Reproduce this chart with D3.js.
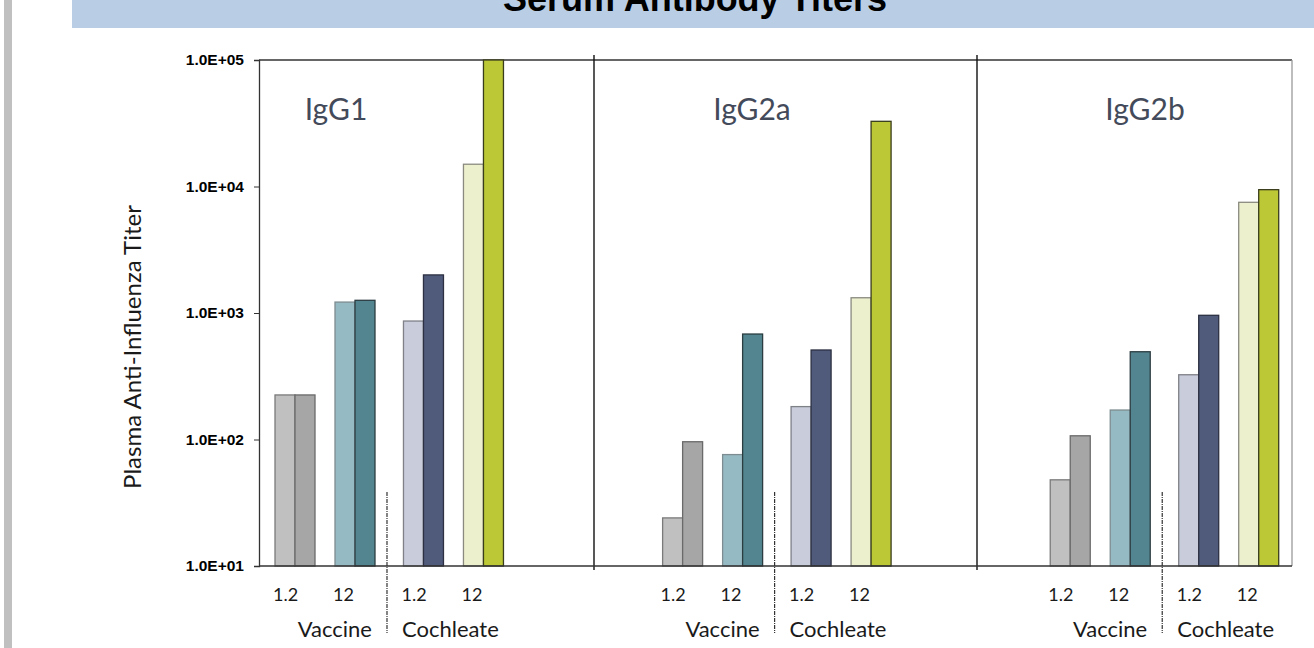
<!DOCTYPE html>
<html>
<head>
<meta charset="utf-8">
<script src="https://cdn.jsdelivr.net/npm/d3@7/dist/d3.min.js"></script>
<style>
  html, body { margin: 0; padding: 0; background: #fff; }
  svg { display: block; }
</style>
</head>
<body>
<svg id="chart" width="1314" height="648"></svg>
<script>
// ---- data ----
const panels = ["IgG1", "IgG2a", "IgG2b"];
const vehicles = ["Vaccine", "Cochleate"];
const doses = ["1.2", "12"];
const bleeds = ["early", "late"];

// titers per panel: [Vaccine 1.2, Vaccine 12, Cochleate 1.2, Cochleate 12], each [early, late]
const igg1Titers  = [[225, 225], [1220, 1260], [864, 2000], [15000, 100000]];
const igg2aTiters = [[24, 96], [76, 682], [182, 510], [1320, 32750]];
const igg2bTiters = [[48, 107], [171, 494], [325, 959], [7500, 9440]];
const panelTiters = [igg1Titers, igg2aTiters, igg2bTiters];

const yTickValues = [10, 100, 1000, 10000, 100000];
const yTickLabels = ["1.0E+01", "1.0E+02", "1.0E+03", "1.0E+04", "1.0E+05"];

// fill / stroke per vehicle-dose group, [early, late]
const groupFills = [
  ["#c0c0c0", "#a6a6a6"],
  ["#96bac3", "#52858f"],
  ["#c8ccdb", "#505a7b"],
  ["#edf0cc", "#bcc836"]
];
const groupStrokes = [
  ["#7a7a7a", "#6a6a6a"],
  ["#7d8c90", "#2c3d42"],
  ["#7f8088", "#2c3042"],
  ["#8a8a80", "#3a3d1c"]
];

// ---- layout ----
const svg = d3.select("#chart");
const plot = { left: 259, right: 1292, top: 60, bottom: 566 };
const dividerX = [594, 977];
const titleX = [336, 752, 1145];

// left grey stripe and title banner
svg.append("rect").attr("x", 4).attr("y", 0).attr("width", 8).attr("height", 648).attr("fill", "#c0c0c0");
svg.append("rect").attr("x", 72).attr("y", 0).attr("width", 1242).attr("height", 28).attr("fill", "#b9cde5");
svg.append("text")
  .attr("x", 695).attr("y", 11)
  .attr("text-anchor", "middle")
  .attr("font-family", "Liberation Sans, Arial, sans-serif")
  .attr("font-weight", "bold")
  .attr("font-size", 36)
  .attr("fill", "#000")
  .text("Serum Antibody Titers");

// ---- scales ----
const y = d3.scaleLog().domain([10, 100000]).range([plot.bottom, plot.top]);

const xPanel = d3.scaleBand().domain(panels).range([265, 1288.7]).paddingInner(0.359).paddingOuter(0);
const xVehicle = d3.scaleBand().domain(vehicles).range([0, xPanel.bandwidth()]).paddingInner(0.066).paddingOuter(0);
const xDose = d3.scaleBand().domain(doses).range([0, xVehicle.bandwidth()]).padding(0);
const xBleed = d3.scaleBand().domain(bleeds).range([0, xDose.bandwidth()]).paddingInner(0).paddingOuter(0.5);

// ---- frame ----
const frame = svg.append("g");
frame.append("line").attr("x1", plot.left).attr("x2", plot.right).attr("y1", plot.top).attr("y2", plot.top)
  .attr("stroke", "#333").attr("stroke-width", 1.3);
frame.append("line").attr("x1", plot.right).attr("x2", plot.right).attr("y1", plot.top).attr("y2", plot.bottom)
  .attr("stroke", "#9a9a9a").attr("stroke-width", 1.3);
dividerX.forEach(x => {
  frame.append("line").attr("x1", x).attr("x2", x).attr("y1", 55).attr("y2", 570)
    .attr("stroke", "#111").attr("stroke-width", 1.4);
});

// ---- bars ----
panels.forEach((p, pi) => {
  const g = svg.append("g").attr("transform", `translate(${xPanel(p)},0)`);
  const titers = panelTiters[pi];

  vehicles.forEach((v, vi) => {
    doses.forEach((d, di) => {
      const gi = vi * 2 + di;
      const x0 = xVehicle(v) + xDose(d);
      bleeds.forEach((b, bi) => {
        const val = titers[gi][bi];
        g.append("rect")
          .attr("x", x0 + xBleed(b))
          .attr("y", y(val))
          .attr("width", xBleed.bandwidth())
          .attr("height", y(10) - y(val))
          .attr("fill", groupFills[gi][bi])
          .attr("stroke", groupStrokes[gi][bi])
          .attr("stroke-width", 1.3);
      });
      // dose label, aligned with the first bar of the pair
      g.append("text")
        .attr("x", x0 + xBleed("early") - 2)
        .attr("y", 601)
        .attr("font-family", "Lato, sans-serif")
        .attr("font-size", 18)
        .attr("fill", "#1a1a1a")
        .text(d);
    });
  });

  // dashed separator between vehicles
  const sepX = xVehicle("Vaccine") + xVehicle.bandwidth() + 2;
  g.append("line")
    .attr("x1", sepX).attr("x2", sepX).attr("y1", 492).attr("y2", 633)
    .attr("stroke", "#333").attr("stroke-width", 1.2)
    .attr("stroke-dasharray", "4,1,1,1");

  g.append("text")
    .attr("x", sepX - 15).attr("y", 637)
    .attr("text-anchor", "end")
    .attr("font-family", "Lato, sans-serif").attr("font-size", 22).attr("fill", "#1a1a1a")
    .text(vehicles[0]);
  g.append("text")
    .attr("x", sepX + 15).attr("y", 637)
    .attr("text-anchor", "start")
    .attr("font-family", "Lato, sans-serif").attr("font-size", 22).attr("fill", "#1a1a1a")
    .text(vehicles[1]);

  // isotype heading
  svg.append("text")
    .attr("x", titleX[pi]).attr("y", 120)
    .attr("text-anchor", "middle")
    .attr("font-family", "Lato, sans-serif")
    .attr("font-size", 30)
    .attr("fill", "#434a5a")
    .text(p);
});

// ---- axes ----
const yAxis = d3.axisLeft(y)
  .tickValues(yTickValues)
  .tickFormat((d, i) => yTickLabels[i])
  .tickSize(5)
  .tickPadding(10);
const yg = svg.append("g").attr("transform", `translate(${plot.left},0)`).call(yAxis);
yg.select(".domain").attr("stroke", "#333").attr("stroke-width", 1.3);
yg.selectAll(".tick line").attr("stroke", "#333");
yg.selectAll(".tick text")
  .attr("font-family", "Liberation Sans, Arial, sans-serif")
  .attr("font-weight", "bold")
  .attr("font-size", 15.5)
  .attr("fill", "#000");

svg.append("line")
  .attr("x1", plot.left).attr("x2", plot.right)
  .attr("y1", plot.bottom).attr("y2", plot.bottom)
  .attr("stroke", "#333").attr("stroke-width", 1.3);

svg.append("text")
  .attr("transform", `translate(141,347) rotate(-90)`)
  .attr("text-anchor", "middle")
  .attr("font-family", "Lato, sans-serif")
  .attr("font-size", 24)
  .attr("fill", "#1a1a1a")
  .text("Plasma Anti-Influenza Titer");
</script>
</body>
</html>
